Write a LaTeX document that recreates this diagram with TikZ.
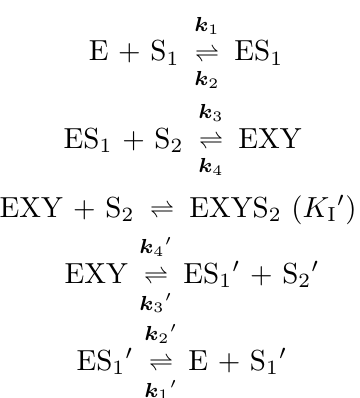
\documentclass[tikz,border=0pt]{standalone}
\usepackage{amsmath}
\usepackage{graphicx}
\usetikzlibrary{positioning}
\tikzset{
  side/.style  = {inner sep=0pt},
  eqarr/.style = {inner sep=0pt,anchor=base},
  rate/.style  = {inner sep=0pt},
}
\newcommand{\chem}[1]{\mathrm{#1}}
\newcommand{\bigeq}[1]{\scalebox{2.9}{$\medmuskip=6mu #1$}}
\newcommand{\harp}{\scalebox{2.4}{$\rightleftharpoons$}}
\newcommand{\rk}[1]{\scalebox{2.9}{$\scriptstyle \boldsymbol{k}_#1$}}

\begin{document}
\begin{tikzpicture}[x=1pt,y=-1pt,node distance=15pt]
  \useasboundingbox (0,0) rectangle (359,398);

  % E + S1 <=> ES1
  \node[eqarr] (a1) at (207,61) {\harp};
  \node[side,base left=of a1] (l1) {\bigeq{\chem{E}+\chem{S}_1}};
  \node[side,base right=of a1] (r1) {\bigeq{\chem{ES}_1}};
  \node[rate,above=13pt of a1] (k1) {\rk{1}};
  \node[rate,below=9pt of a1] (k2) {\rk{2}};

  % ES1 + S2 <=> EXY
  \node[eqarr] (a2) at (211,148) {\harp};
  \node[side,base left=of a2] (l2) {\bigeq{\chem{ES}_1+\chem{S}_2}};
  \node[side,base right=of a2] (r2) {\bigeq{\chem{EXY}}};
  \node[rate,above=13pt of a2] (k3) {\rk{3}};
  \node[rate,below=9pt of a2] (k4) {\rk{4}};

  % inhibition step, no rate constants
  \node[eqarr] (a3) at (162,217) {\harp};
  \node[side,base left=of a3] (l3) {\bigeq{\chem{EXY}+\chem{S}_2}};
  \node[side,base right=of a3] (r3) {\bigeq{\chem{EXYS}_2\ (K_{\mathrm{I}}{}')}};

  % EXY <=> ES1' + S2'
  \node[eqarr] (a4) at (156,283) {\harp};
  \node[side,base left=of a4] (l4) {\bigeq{\chem{EXY}}};
  \node[side,base right=of a4] (r4) {\bigeq{\chem{ES}_1{}'+\chem{S}_2{}'}};
  \node[rate,above=13pt of a4] (k4p) {\rk{4{}'}};
  \node[rate,below=9pt of a4] (k3p) {\rk{3{}'}};

  % ES1' <=> E + S1'
  \node[eqarr] (a5) at (161,370) {\harp};
  \node[side,base left=of a5] (l5) {\bigeq{\chem{ES}_1{}'}};
  \node[side,base right=of a5] (r5) {\bigeq{\chem{E}+\chem{S}_1{}'}};
  \node[rate,above=13pt of a5] (k2p) {\rk{2{}'}};
  \node[rate,below=9pt of a5] (k1p) {\rk{1{}'}};
\end{tikzpicture}
\end{document}
